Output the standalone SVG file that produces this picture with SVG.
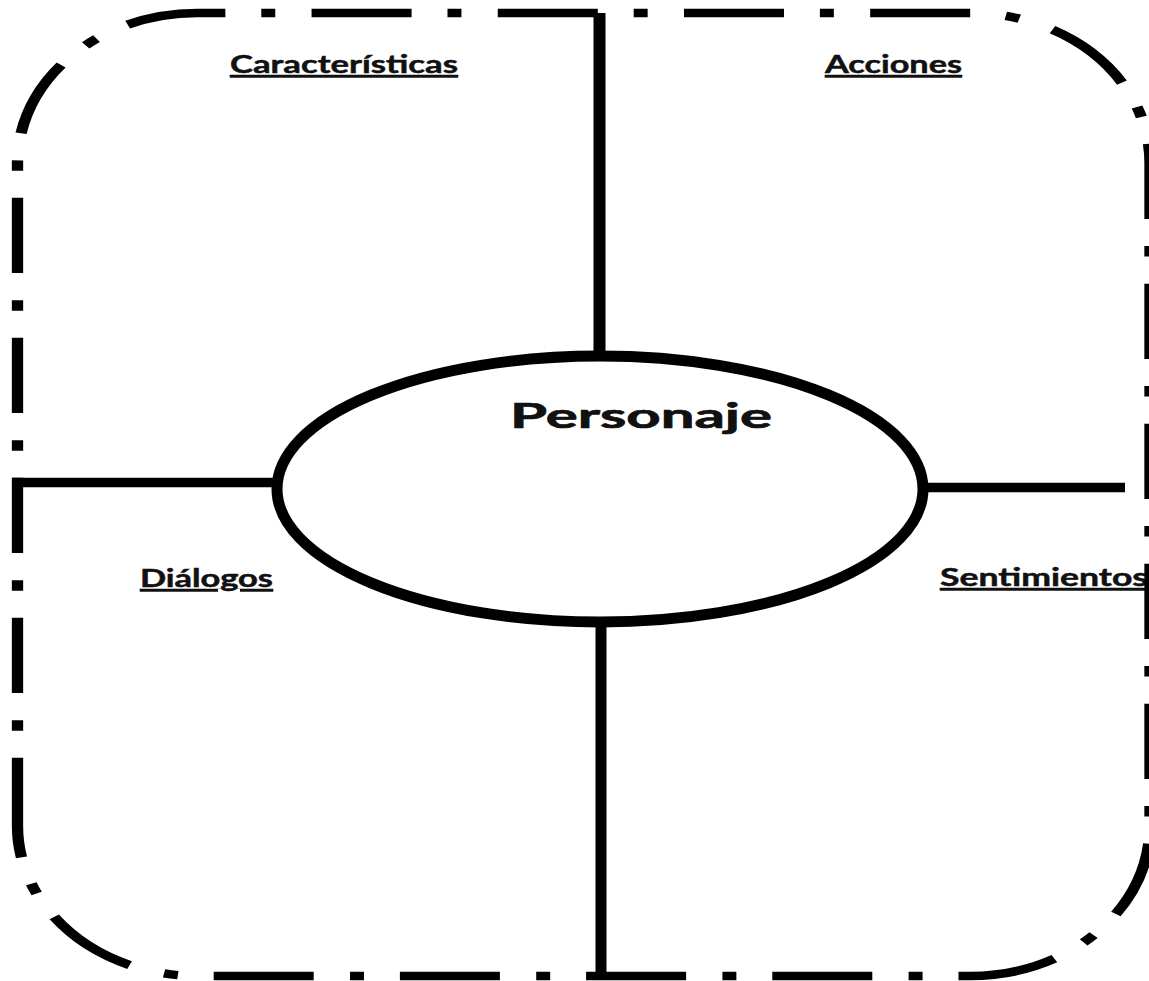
<svg xmlns="http://www.w3.org/2000/svg" width="1149" height="981" viewBox="0 0 1149 981">
  <style>
    .frame { fill: none; stroke: #000; stroke-width: 8.5; stroke-dasharray: 75.2 27 10.5 27.3; stroke-dashoffset: 7; stroke-linecap: butt; }
    .conn { stroke: #000; stroke-linecap: butt; fill: none; }
    .label { font-family: "Lato", "Open Sans", "Liberation Sans", sans-serif; font-weight: 700; fill: #111; stroke: #111; stroke-width: 0.5; text-decoration: underline; }
    .title { font-family: "Lato", "Open Sans", "Liberation Sans", sans-serif; font-weight: 700; fill: #111; stroke: #111; stroke-width: 0.7; }
  </style>
  <rect width="1149" height="981" fill="#fff"/>

  <g id="connectors">
    <line class="conn" x1="599.5" y1="13" x2="599.5" y2="360" stroke-width="12"/>
    <line class="conn" x1="601" y1="618" x2="601" y2="976" stroke-width="11"/>
    <line class="conn" x1="12" y1="482.5" x2="285" y2="482.5" stroke-width="9.5"/>
    <line class="conn" x1="918" y1="487.5" x2="1125" y2="487.5" stroke-width="9.5"/>
  </g>

  <g id="personaje">
    <ellipse cx="600" cy="489" rx="323" ry="133" fill="#fff" stroke="#000" stroke-width="11"/>
    <text class="title" x="510" y="428" font-size="35" textLength="262" lengthAdjust="spacingAndGlyphs">Personaje</text>
  </g>

  <g id="caracteristicas">
    <text class="label" x="230" y="73" font-size="25" textLength="228" lengthAdjust="spacingAndGlyphs">Características</text>
  </g>
  <g id="acciones">
    <text class="label" x="825" y="73" font-size="25" textLength="137" lengthAdjust="spacingAndGlyphs">Acciones</text>
  </g>
  <g id="dialogos">
    <text class="label" x="140" y="587" font-size="25" textLength="133" lengthAdjust="spacingAndGlyphs">Diálogos</text>
  </g>
  <g id="sentimientos">
    <text class="label" x="940" y="586" font-size="25" textLength="208" lengthAdjust="spacingAndGlyphs">Sentimientos</text>
  </g>

  <g id="frame" transform="scale(1.33,1)">
    <path class="frame" d="M 13.16 826 L 13.16 163 A 135 150 0 0 1 148.16 13 L 729.66 13 A 135 150 0 0 1 864.66 163 L 864.66 826 A 135 150 0 0 1 729.66 976 L 148.16 976 A 135 150 0 0 1 13.16 826 Z"/>
  </g>
</svg>
